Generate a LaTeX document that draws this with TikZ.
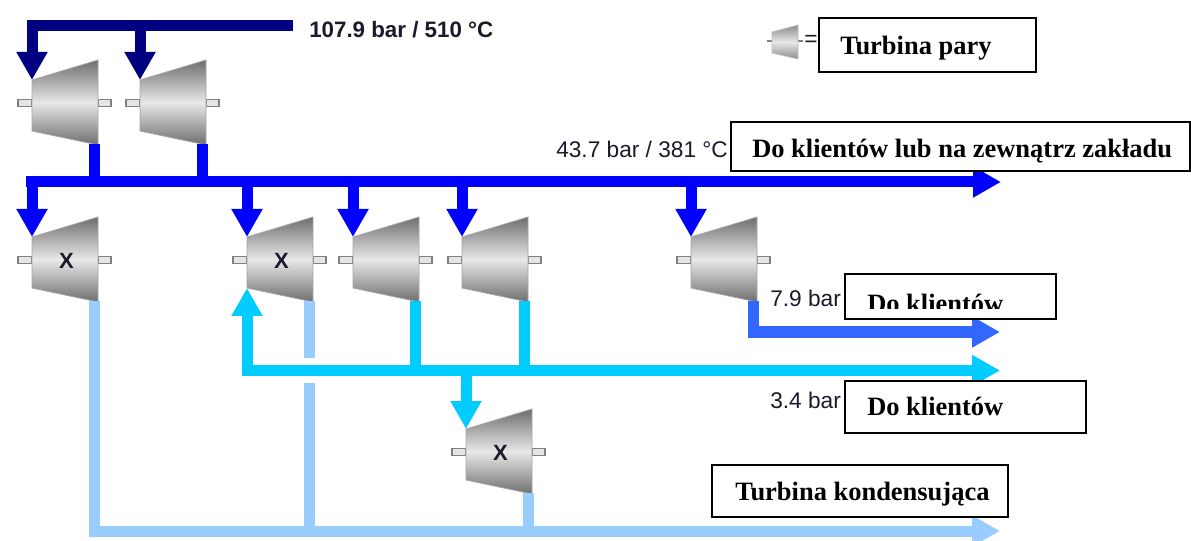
\documentclass[tikz,border=0pt]{standalone}
\usepackage{fontspec}
\setmainfont{Liberation Serif}
\setsansfont{Liberation Sans}
\usetikzlibrary{arrows.meta}
\definecolor{navy}{HTML}{000080}
\definecolor{hp}{HTML}{0000FF}
\definecolor{mp}{HTML}{3366FF}
\definecolor{lp}{HTML}{00CCFF}
\definecolor{cond}{HTML}{99CCFF}
\definecolor{tdark}{HTML}{6E6E6E}
\definecolor{tlight}{HTML}{E8E8E8}
\definecolor{vtext}{HTML}{1A1A2A}
\tikzset{
  pipe/.style={line width=8.25pt},
  flow/.style={pipe,-{Triangle[length=21pt,width=22pt]}},
  flowboth/.style={pipe,{Triangle[length=21pt,width=22pt]}-{Triangle[length=21pt,width=22pt]}},
  labelbox/.style={draw=black,line width=1.1pt,fill=white,minimum height=10pt,inner sep=0pt},
  boxtext/.style={font=\bfseries\fontsize{19.85}{22}\selectfont,inner sep=0pt,anchor=base west},
  valtext/.style={font=\sffamily\fontsize{17}{20}\selectfont,text=vtext,inner sep=0pt,anchor=base west},
  valbold/.style={font=\sffamily\bfseries\fontsize{16.75}{20}\selectfont,text=vtext,inner sep=0pt,anchor=base west},
  stub/.style={draw=black!50,fill=black!10,line width=.9pt},
  turbine/.pic={
    \draw[stub] (-47,-3.2) rectangle (-33,3.2);
    \draw[stub] (33,-3.2) rectangle (46,3.2);
    \shade[top color=tdark,bottom color=tdark,middle color=tlight,draw=black!35,line width=.6pt]
      (-33,-23) -- (33,-43) -- (33,42) -- (-33,28) -- cycle;
    \node[font=\sffamily\bfseries\fontsize{16.5}{20}\selectfont,text=vtext,inner sep=0pt] (-mark) at (1.5,1) {\tikzpictext};
    \coordinate (-in) at (-33,-23);
    \coordinate (-low) at (-33,28);
    \coordinate (-out) at (29.5,41);
  },
  smallturbine/.pic={
    \draw[draw=black!50,line width=.8pt] (-18,0) -- (18,0);
    \shade[top color=black!45,bottom color=black!45,middle color=tlight,draw=black!25,line width=.5pt]
      (-13,-9) -- (13,-16) -- (13,18) -- (-13,12) -- cycle;
  }
}
\begin{document}
\begin{tikzpicture}[x=0.75pt,y=-0.75pt]
\useasboundingbox (0,0) rectangle (1191,541);
\fill[white] (0,0) rectangle (1191,541);

% turbines
\pic[pic text={}] (a) at (65,103) {turbine};
\pic[pic text={}] (b) at (173,103) {turbine};
\pic[pic text={X}] (c) at (65,260) {turbine};
\pic[pic text={X}] (d) at (280,260) {turbine};
\pic[pic text={}] (e) at (386,260) {turbine};
\pic[pic text={}] (f) at (495,260) {turbine};
\pic[pic text={}] (g) at (724,260) {turbine};
\pic[pic text={X}] (h) at (499,452) {turbine};

% supply header
\coordinate (sEnd) at (293,26);
\coordinate (sA) at (a-in |- sEnd);
\coordinate (sB) at (b-in |- sEnd);
\draw[flow,navy] (sEnd) -- (sA) -- (a-in);
\draw[flow,navy] (sB) -- (b-in);

% 43.7 bar header
\coordinate (hpStart) at (26,182);
\coordinate (hpEnd) at (1001,182);
\draw[pipe,hp] (a-out) -- (a-out |- hpEnd);
\draw[pipe,hp] (b-out) -- (b-out |- hpEnd);
\draw[flow,hp] (hpStart) -- (hpEnd);
\draw[flow,hp] (c-in |- hpEnd) -- (c-in);
\draw[flow,hp] (d-in |- hpEnd) -- (d-in);
\draw[flow,hp] (e-in |- hpEnd) -- (e-in);
\draw[flow,hp] (f-in |- hpEnd) -- (f-in);
\draw[flow,hp] (g-in |- hpEnd) -- (g-in);

% 7.9 bar
\coordinate (mpEnd) at (1000,332);
\draw[flow,mp] (g-out) -- (g-out |- mpEnd) -- (mpEnd);

% 3.4 bar header
\coordinate (lpEnd) at (1000,370.5);
\draw[pipe,lp] (e-out) -- (e-out |- lpEnd);
\draw[pipe,lp] (f-out) -- (f-out |- lpEnd);
\draw[flowboth,lp] (d-low) -- (d-low |- lpEnd) -- (lpEnd);
\draw[flow,lp] (h-in |- lpEnd) -- (h-in);

% condensing header
\coordinate (cdEnd) at (1000,531);
\coordinate (gapT) at (d-out |- 0,358);
\coordinate (gapB) at (d-out |- 0,383);
\draw[flow,cond] (c-out) -- (c-out |- cdEnd) -- (cdEnd);
\draw[pipe,cond] (d-out) -- (gapT);
\draw[pipe,cond] (gapB) -- (gapB |- cdEnd);
\draw[pipe,cond] (h-out) -- (h-out |- cdEnd);

% legend
\pic (legend) at (785,41) {smallturbine};
\node[font=\sffamily\fontsize{17}{20}\selectfont,text=vtext,inner sep=0pt] (eq) at (811,41) {=};

% value labels
\node[valbold] (v1) at (309,38) {107.9 bar / 510 °C};
\node[valtext] (v2) at (556,158) {43.7 bar / 381 °C};
\node[valtext] (v3) at (770,307) {7.9 bar};
\node[valtext] (v4) at (770,408) {3.4 bar};

% boxes
\draw[labelbox] (819,18) rectangle (1036,72);
\node[boxtext] (t1) at (840,55) {Turbina pary};
\draw[labelbox] (731,122) rectangle (1190,171);
\node[boxtext] (t2) at (752,158) {Do klientów lub na zewnątrz zakładu};
\draw[labelbox] (845,274) rectangle (1056,319);
\begin{scope}
\clip (846,275) rectangle (1055,309);
\node[boxtext] (t3) at (867,313) {Do klientów};
\end{scope}
\draw[labelbox] (845,381) rectangle (1086,433);
\node[boxtext] (t4) at (867,415) {Do klientów};
\draw[labelbox] (712,465) rectangle (1008,517);
\node[boxtext] (t5) at (735,500) {Turbina kondensująca};
\end{tikzpicture}
\end{document}
